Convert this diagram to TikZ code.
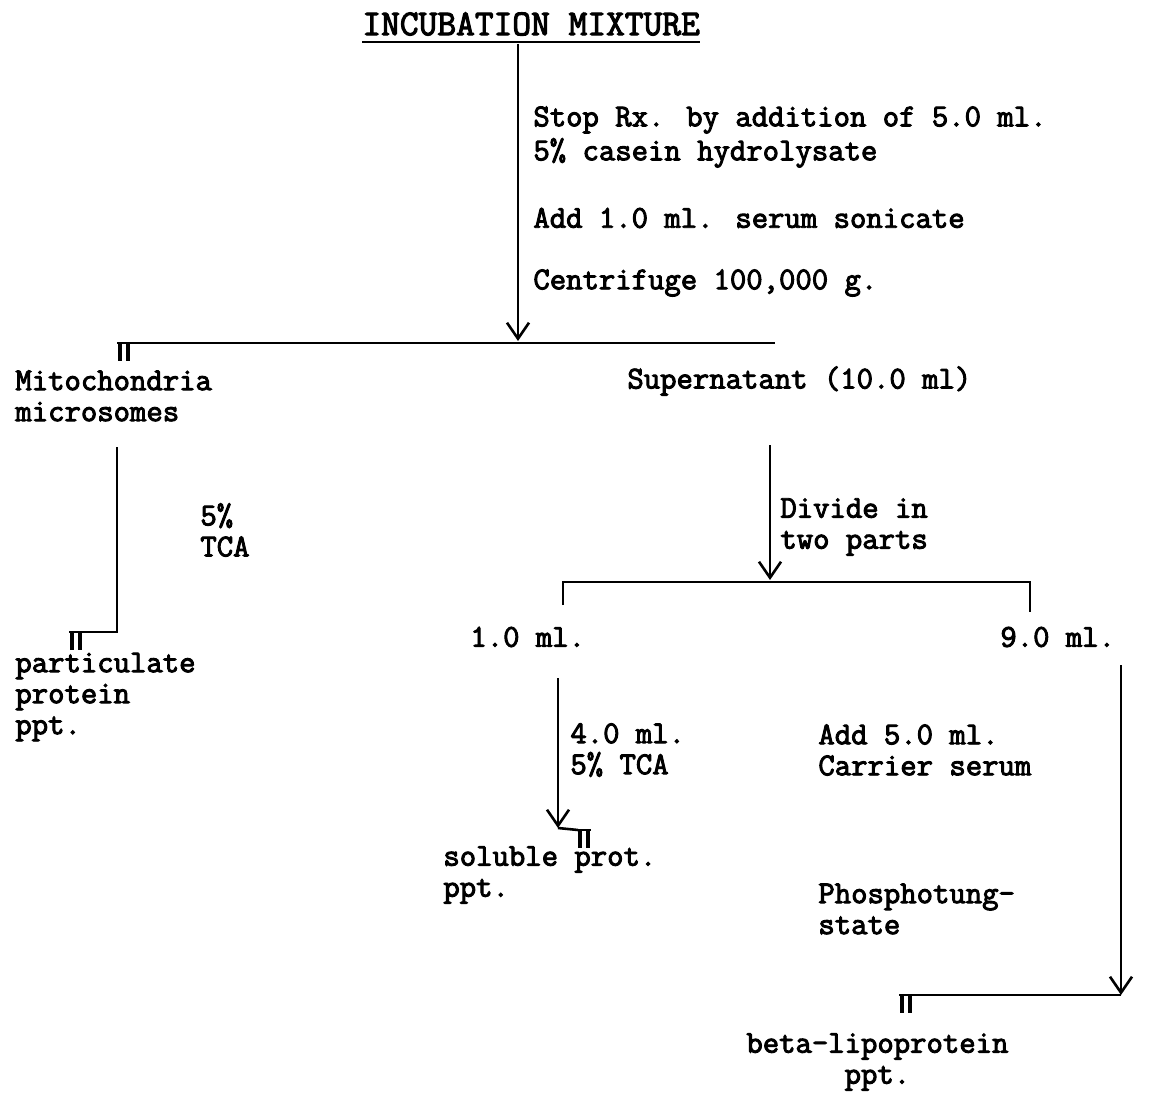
\documentclass[tikz,border=0pt]{standalone}
\usepackage{fontspec}
\newfontfamily\typer{Latin Modern Mono}[FakeBold=3]
\usetikzlibrary{arrows.meta,calc}

\tikzset{
  txt/.style={anchor=west, inner sep=0pt, align=left, font=\typer\fontsize{15.9}{15.5}\selectfont},
  flow/.style={line width=1.3pt},
  step arrow/.style={flow, -{Straight Barb[length=8pt,width=11pt,line width=1.3pt]}},
}
% precipitate sign
\newcommand{\pptmark}[1]{
  \draw [line width=1.2pt] ($(#1)+(-1,0)$) -- ++(14,0);
  \draw [line width=2pt] ($(#1)+(2,0)$) -- ++(0,18);
  \draw [line width=2pt] ($(#1)+(10,0)$) -- ++(0,18);
}

\begin{document}
\begin{tikzpicture}[x=0.5pt, y=-0.5pt]
\useasboundingbox (0,0) rectangle (1161,1102);

% title
\node (title) [txt, font=\typer\fontsize{18.2}{20}\selectfont] at (362,24) {INCUBATION MIXTURE};
\draw [line width=1.2pt] ($(title.west)+(0,18)$) -- ($(title.east)+(0,18)$);

% first step
\node (stop) [txt, font=\typer\fontsize{15.9}{17}\selectfont] at (533,137) {Stop Rx. by addition of 5.0 ml.\\5\% casein hydrolysate};
\node (serum) [txt] at (533,218) {Add 1.0 ml. serum sonicate};
\node (spin) [txt] at (533,283) {Centrifuge 100,000 g.};

\coordinate (top) at (518,44);
\coordinate (split) at (518,341);
\coordinate (splitL) at (118,343);
\coordinate (splitR) at (775,343);
\draw [step arrow] (top) -- (split);
\draw [flow] (splitL) -- (splitR);
\pptmark{splitL}

% left branch
\node (mito) [txt] at (15,396) {Mitochondria\\microsomes};
\node (tca) [txt] at (200,530) {5\%\\TCA};
\node (part) [txt] at (15,697) {particulate\\protein\\ppt.};
\coordinate (mitoA) at (117,447);
\coordinate (mitoB) at (117,632);
\coordinate (mitoC) at (70,632);
\draw [flow] (mitoA) -- (mitoB) -- (mitoC);
\pptmark{mitoC}

% right branch
\node (super) [txt] at (627,381) {Supernatant (10.0 ml)};
\node (divide) [txt] at (780,527) {Divide in\\two parts};
\coordinate (supA) at (770,445);
\coordinate (supB) at (770,580);
\draw [step arrow] (supA) -- (supB);
\coordinate (brL) at (563,605);
\coordinate (brR) at (1030,612);
\draw [flow] (brL) |- (770,582) -| (brR);

\node (one) [txt] at (470,637) {1.0 ml.};
\node (nine) [txt] at (1000,637) {9.0 ml.};

% 1.0 ml part
\node (four) [txt] at (570,750) {4.0 ml.\\5\% TCA};
\node (sol) [txt] at (443,875) {soluble prot.\\ppt.};
\coordinate (oneA) at (558,678);
\coordinate (oneB) at (558,828);
\coordinate (oneC) at (578,830);
\draw [step arrow] (oneA) -- (oneB);
\draw [flow] (oneB) -- (oneC);
\pptmark{oneC}

% 9.0 ml part
\node (carrier) [txt] at (818,750) {Add 5.0 ml.\\Carrier serum};
\node (phos) [txt] at (818,909) {Phosphotung-\\state};
\node (beta) [txt, align=center] at (746,1062) {beta-lipoprotein\\ppt.};
\coordinate (nineA) at (1121,665);
\coordinate (nineB) at (1121,995);
\coordinate (nineC) at (900,995);
\draw [step arrow] (nineA) -- (nineB);
\draw [flow] (nineB) -- (nineC);
\pptmark{nineC}
\end{tikzpicture}
\end{document}
